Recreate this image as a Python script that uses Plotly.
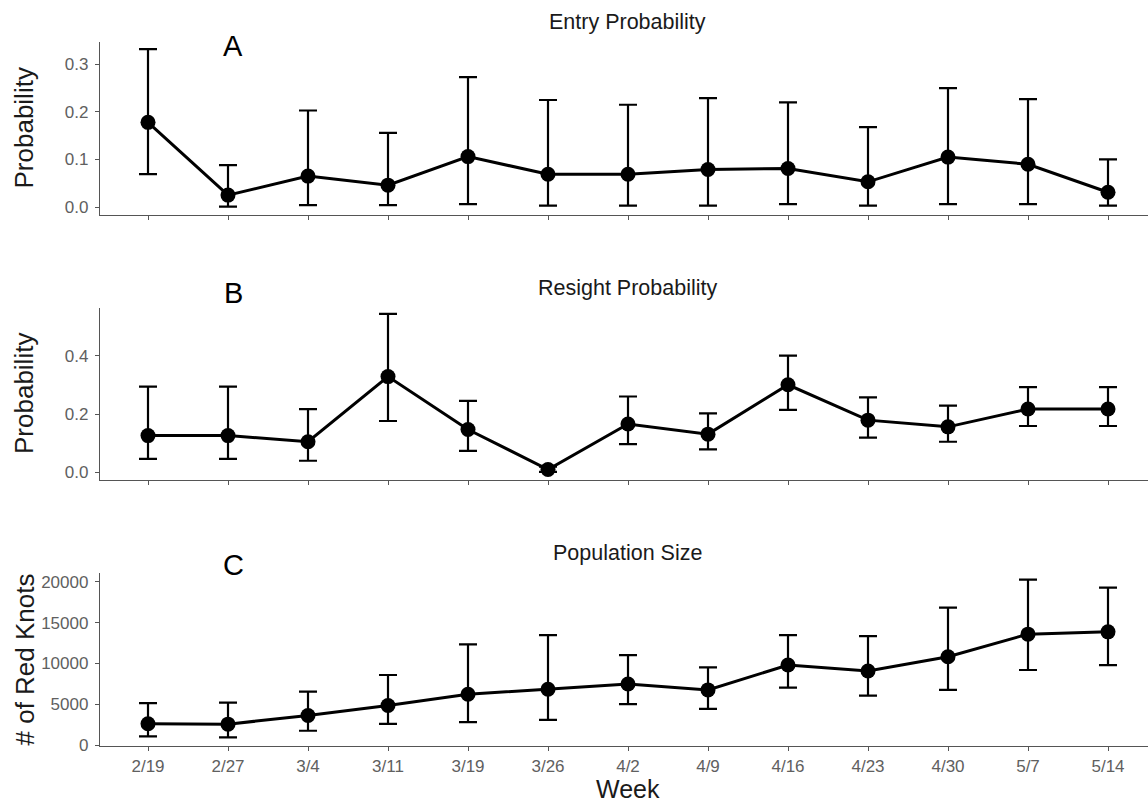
import plotly.graph_objects as go

weeks = ["2/19", "2/27", "3/4", "3/11", "3/19", "3/26", "4/2", "4/9",
         "4/16", "4/23", "4/30", "5/7", "5/14"]

entry_est = [0.178, 0.025, 0.065, 0.046, 0.106, 0.069, 0.069, 0.079, 0.081, 0.053, 0.105, 0.090, 0.031]
entry_lo  = [0.069, 0.001, 0.004, 0.004, 0.006, 0.003, 0.003, 0.003, 0.006, 0.003, 0.006, 0.006, 0.003]
entry_hi  = [0.332, 0.088, 0.203, 0.156, 0.273, 0.225, 0.215, 0.229, 0.220, 0.168, 0.250, 0.227, 0.100]

resight_est = [0.126, 0.126, 0.105, 0.328, 0.147, 0.010, 0.166, 0.131, 0.300, 0.179, 0.156, 0.217, 0.217]
resight_lo  = [0.046, 0.046, 0.040, 0.176, 0.074, 0.002, 0.097, 0.079, 0.214, 0.119, 0.105, 0.159, 0.159]
resight_hi  = [0.294, 0.294, 0.217, 0.543, 0.245, 0.020, 0.260, 0.202, 0.400, 0.257, 0.229, 0.292, 0.292]

pop_est = [2600, 2560, 3620, 4840, 6230, 6840, 7490, 6760, 9810, 9080, 10830, 13600, 13880]
pop_lo  = [1050, 930, 1750, 2600, 2810, 3090, 5010, 4440, 7040, 6060, 6760, 9200, 9810]
pop_hi  = [5130, 5200, 6550, 8590, 12340, 13480, 11030, 9530, 13480, 13360, 16860, 20290, 19310]

W, H = 1148, 803
FONT = "Liberation Sans, Arial, sans-serif"
AXC = "#555555"
TICKC = "#606060"

panels = [
    dict(est=entry_est, lo=entry_lo, hi=entry_hi, top=42, bot=215,
         rng=[-0.0168, 0.347], tickvals=[0, 0.1, 0.2, 0.3], fmt=".1f",
         title="Entry Probability", title_y=22, letter="A", letter_y=46,
         ytitle="Probability"),
    dict(est=resight_est, lo=resight_lo, hi=resight_hi, top=308, bot=480,
         rng=[-0.026, 0.563], tickvals=[0, 0.2, 0.4], fmt=".1f",
         title="Resight Probability", title_y=288, letter="B", letter_y=293,
         ytitle="Probability"),
    dict(est=pop_est, lo=pop_lo, hi=pop_hi, top=573, bot=746,
         rng=[-120, 21100], tickvals=[0, 5000, 10000, 15000, 20000], fmt="d",
         title="Population Size", title_y=553, letter="C", letter_y=565,
         ytitle="# of Red Knots"),
]

fig = go.Figure()
annotations = []
layout = {}
for i, p in enumerate(panels):
    n = "" if i == 0 else str(i + 1)
    plus = [h - e for h, e in zip(p["hi"], p["est"])]
    minus = [e - l for e, l in zip(p["est"], p["lo"])]
    fig.add_trace(go.Scatter(
        x=weeks, y=p["est"], mode="lines+markers",
        xaxis="x" + n, yaxis="y" + n,
        line=dict(color="black", width=3),
        marker=dict(color="black", size=15),
        error_y=dict(type="data", array=plus, arrayminus=minus, visible=True,
                     color="black", thickness=2.2, width=9),
        showlegend=False, cliponaxis=False,
    ))
    dom = [(H - p["bot"]) / H, (H - p["top"]) / H]
    layout["xaxis" + n] = dict(
        domain=[100 / W, 1], type="category", range=[-0.6, 12.5],
        anchor="y" + n, showline=True, linecolor=AXC, linewidth=1.3,
        ticks="outside", ticklen=4, tickcolor=AXC, tickwidth=1,
        showticklabels=(i == 2), tickfont=dict(family=FONT, size=17, color=TICKC),
        showgrid=False, zeroline=False, automargin=False, fixedrange=True,
    )
    layout["yaxis" + n] = dict(
        domain=dom, range=p["rng"], anchor="x" + n,
        tickvals=p["tickvals"], tickformat=p["fmt"],
        showline=True, linecolor=AXC, linewidth=1.3,
        ticks="outside", ticklen=4, tickcolor=AXC, tickwidth=1,
        tickfont=dict(family=FONT, size=17, color=TICKC), ticklabelstandoff=3,
        showgrid=False, zeroline=False, automargin=False,
    )
    annotations.append(dict(text=p["title"], x=628, y=H - p["title_y"],
                            xref="paper", yref="paper", showarrow=False,
                            font=dict(family=FONT, size=21.5, color="#1a1a1a"),
                            xanchor="center", yanchor="middle"))
    annotations.append(dict(text=p["letter"], x=233, y=H - p["letter_y"],
                            xref="paper", yref="paper", showarrow=False,
                            font=dict(family=FONT, size=29, color="black"),
                            xanchor="center", yanchor="middle"))
    annotations.append(dict(text=p["ytitle"], x=24, y=H - (p["top"] + p["bot"]) / 2,
                            xref="paper", yref="paper", showarrow=False, textangle=-90,
                            font=dict(family=FONT, size=26, color="#1a1a1a"),
                            xanchor="center", yanchor="middle"))

annotations.append(dict(text="Week", x=628, y=H - 789, xref="paper", yref="paper",
                        showarrow=False, font=dict(family=FONT, size=25, color="#1a1a1a"),
                        xanchor="center", yanchor="middle"))

# convert pixel annotation coords to paper fractions
for a in annotations:
    a["x"] = a["x"] / W
    a["y"] = a["y"] / H

fig.update_layout(
    width=W, height=H,
    margin=dict(l=0, r=0, t=0, b=0),
    plot_bgcolor="white", paper_bgcolor="white",
    annotations=annotations,
    **layout,
)

fig.write_html("out.html",
               config={"displayModeBar": False},
               post_script="document.body.style.margin='0';document.body.style.overflow='hidden';")
